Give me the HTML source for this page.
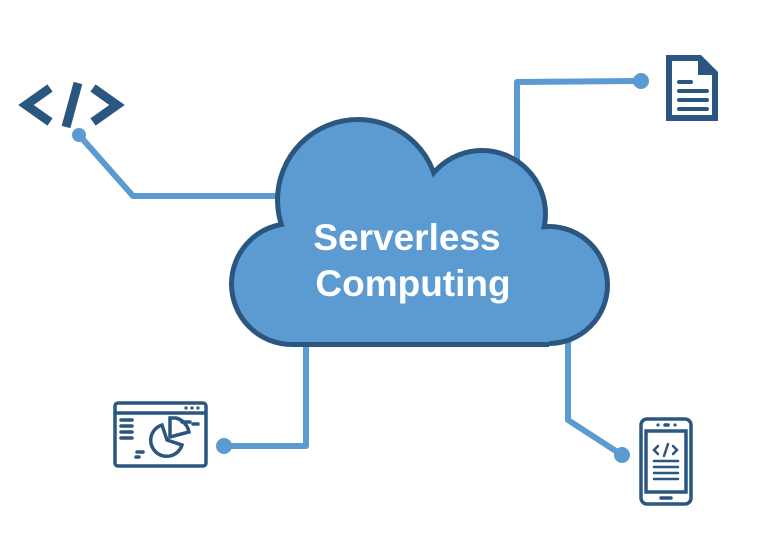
<!DOCTYPE html>
<html><head><meta charset="utf-8"><style>
html,body{margin:0;padding:0;background:#fff;}
svg{display:block}
</style></head><body>
<svg width="764" height="535" viewBox="0 0 764 535" xmlns="http://www.w3.org/2000/svg">
<g fill="none" stroke="#5b9bd1" stroke-width="6" stroke-linejoin="round">
  <polyline points="79,135 133,196 285,196"/>
  <polyline points="517,165 517,82 641,81"/>
  <polyline points="306,340 306,446 224,446"/>
  <polyline points="568,340 568,420 622,455"/>
</g>
<g fill="#5b9bd1">
  <circle cx="79" cy="135" r="7"/>
  <circle cx="641" cy="81" r="8"/>
  <circle cx="224" cy="446" r="8"/>
  <circle cx="622" cy="455" r="8"/>
</g>
<!-- cloud -->
<g fill="#2a5680" stroke="#2a5680" stroke-width="10">
  <circle cx="292" cy="284" r="58"/>
  <circle cx="358" cy="200" r="78"/>
  <circle cx="482" cy="214" r="61"/>
  <circle cx="549" cy="285" r="56"/>
</g>
<rect x="292" y="235" width="257" height="112" fill="#2a5680"/>
<g fill="#5b9bd1">
  <circle cx="292" cy="284" r="58"/>
  <circle cx="358" cy="200" r="78"/>
  <circle cx="482" cy="214" r="61"/>
  <circle cx="549" cy="285" r="56"/>
  <rect x="292" y="235" width="257" height="107"/>
</g>
<text x="407" y="250" text-anchor="middle" font-family="Liberation Sans, sans-serif" font-weight="bold" font-size="37" fill="#fff">Serverless</text>
<text x="413" y="296" text-anchor="middle" font-family="Liberation Sans, sans-serif" font-weight="bold" font-size="37" fill="#fff">Computing</text>
<!-- code icon -->
<g fill="none" stroke="#2a5680" stroke-width="9" stroke-linejoin="miter">
  <polyline points="50,88 26,105 50,122"/>
  <polyline points="93,88 117,105 93,122"/>
  <line x1="78" y1="83" x2="66" y2="127"/>
</g>
<!-- document icon -->
<g>
  <path d="M666,55 H701 L718,72 V121 H666 Z" fill="#2a5680"/>
  <path d="M672,61 H698 V75 H712 V115 H672 Z" fill="#fff"/>
  <g stroke="#2a5680" stroke-width="4" stroke-linecap="round">
    <line x1="679" y1="82" x2="691" y2="82"/>
    <line x1="679" y1="91" x2="707" y2="91"/>
    <line x1="679" y1="100" x2="707" y2="100"/>
    <line x1="679" y1="109" x2="707" y2="109"/>
  </g>
</g>
<!-- browser dashboard icon -->
<g fill="none" stroke="#2a5680" stroke-width="3.5" stroke-linecap="round">
  <rect x="115" y="403" width="91" height="63" rx="3"/>
  <line x1="115" y1="413" x2="206" y2="413"/>
  <line x1="121" y1="420" x2="132" y2="420"/>
  <line x1="121" y1="426" x2="132" y2="426"/>
  <line x1="121" y1="432" x2="132" y2="432"/>
  <line x1="121" y1="438" x2="132" y2="438"/>
  <path d="M162,425 A16,16 0 1 0 182,445 L167,440 Z"/>
  <path d="M170,418 V437 L189,432 A18,18 0 0 0 176,418 Z"/>
  <line x1="182" y1="422" x2="190" y2="422"/>
  <line x1="193" y1="424" x2="198" y2="424"/>
  <line x1="137" y1="452" x2="143" y2="452"/>
  <line x1="136" y1="457" x2="139" y2="457"/>
</g>
<g fill="#2a5680">
  <circle cx="186" cy="408" r="1.6"/><circle cx="192" cy="408" r="1.6"/><circle cx="198" cy="408" r="1.6"/>
</g>
<!-- phone icon -->
<g fill="none" stroke="#2a5680" stroke-width="3.5" stroke-linecap="round">
  <rect x="641" y="419" width="50" height="85" rx="6"/>
  <rect x="646" y="431" width="40" height="61"/>
  <line x1="665" y1="425" x2="668" y2="425"/>
  <line x1="661" y1="498" x2="671" y2="498"/>
  <polyline points="658,446 654,450 658,454" stroke-width="2.5"/>
  <polyline points="673,446 677,450 673,454" stroke-width="2.5"/>
  <line x1="668" y1="444" x2="664" y2="456" stroke-width="2.5"/>
  <line x1="654" y1="461" x2="678" y2="461" stroke-width="2.5"/>
  <line x1="654" y1="467" x2="678" y2="467" stroke-width="2.5"/>
  <line x1="654" y1="473" x2="678" y2="473" stroke-width="2.5"/>
  <line x1="654" y1="479" x2="678" y2="479" stroke-width="2.5"/>
</g>
<g fill="#2a5680"><circle cx="658" cy="425" r="1.6"/><circle cx="675" cy="425" r="1.6"/></g>
</svg>
</body></html>
